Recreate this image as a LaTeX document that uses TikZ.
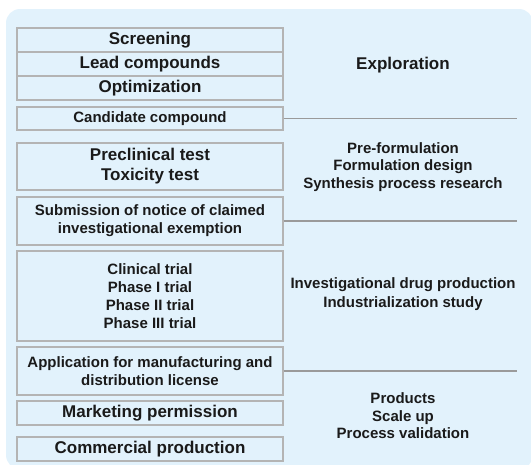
\documentclass[tikz,border=0pt]{standalone}
\usepackage{fontspec}
\setmainfont{Liberation Sans}
\definecolor{bgblue}{HTML}{E2F2FC}
\definecolor{boxgray}{HTML}{B4B4B4}
\definecolor{linegray}{HTML}{9A9A9A}
\definecolor{txt}{HTML}{1A1A1A}
\begin{document}
\begin{tikzpicture}[x=1pt,y=-1pt,
  stepbox/.style={draw=boxgray, line width=1.4pt, fill=bgblue, minimum width=266pt, inner sep=0pt, align=center, text=txt, font=\bfseries},
  big/.style={font=\fontsize{17}{20}\selectfont\bfseries},
  small/.style={font=\fontsize{15}{18}\selectfont\bfseries},
  sidetext/.style={align=center, text=txt, inner sep=0pt},
  sep/.style={draw=linegray, line width=1.1pt}]
\useasboundingbox (0,0) rectangle (531,464);
\fill[bgblue, rounded corners=14pt] (6,9) rectangle (533,469);
\node[stepbox, big, minimum height=24pt] (scr) at (150,40) {Screening};
\node[stepbox, big, minimum height=24pt] (lead) at (150,64) {Lead compounds};
\node[stepbox, big, minimum height=24pt] (opt) at (150,88) {Optimization};
\node[stepbox, small, minimum height=23pt] (cand) at (150,118.5) {Candidate compound};
\node[stepbox, big, minimum height=47pt] (pre) at (150,166.5) {Preclinical test\\Toxicity test};
\node[stepbox, small, minimum height=48pt] (sub) at (150,221) {Submission of notice of claimed\\investigational exemption};
\node[stepbox, small, minimum height=90pt] (clin) at (150,296) {Clinical trial\\Phase I trial\\Phase II trial\\Phase III trial};
\node[stepbox, small, minimum height=48pt] (app) at (150,371) {Application for manufacturing and\\distribution license};
\node[stepbox, big, minimum height=24pt] (mkt) at (150,413) {Marketing permission};
\node[stepbox, big, minimum height=24pt] (com) at (150,449) {Commercial production};
\coordinate (e1) at (517,118.5);
\coordinate (e2) at (517,221);
\coordinate (e3) at (517,371);
\draw[sep] (cand.east) -- (e1);
\draw[sep] (sub.east) -- (e2);
\draw[sep] (app.east) -- (e3);
\node[sidetext, big] (expl) at (403,65) {Exploration};
\node[sidetext, small, font=\fontsize{15}{17.5}\selectfont\bfseries] (form) at (403,167) {Pre-formulation\\Formulation design\\Synthesis process research};
\node[sidetext, small, font=\fontsize{15}{18.5}\selectfont\bfseries] (inv) at (403,294) {Investigational drug production\\Industrialization study};
\node[sidetext, small, font=\fontsize{15}{17.5}\selectfont\bfseries] (prod) at (403,416) {Products\\Scale up\\Process validation};
\end{tikzpicture}
\end{document}
